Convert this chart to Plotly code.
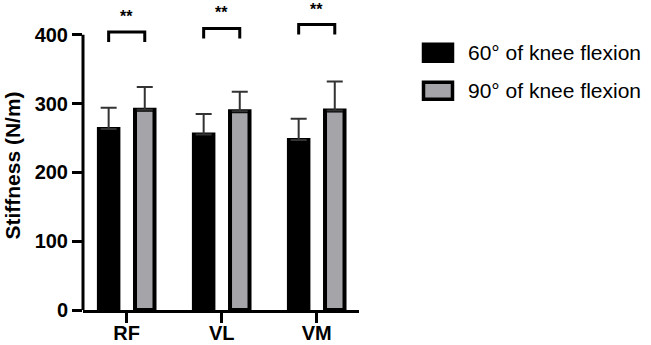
import plotly.graph_objects as go

categories = ["RF", "VL", "VM"]
series_names = ["60° of knee flexion", "90° of knee flexion"]
stiff_60 = [263, 255, 247]
sd_60 = [31, 30, 31]
stiff_90 = [291, 289, 290]
sd_90 = [33, 28, 42]
bracket_top = [404, 409, 415]
star_y = [426, 432, 437]
y_ticks = [0, 100, 200, 300, 400]

W, H = 651, 345
L, R, T, B = 83, 292, 21.25, 35
PW, PH = W - L - R, H - T - B
Y_MAX = 420
FONT = "Liberation Sans, Arial, Helvetica, sans-serif"
GREY = "#a5a4a9"

def px(x):
    return (x - L) / PW

def py(y):
    return (H - B - y) / PH

xs = list(range(len(categories)))

fig = go.Figure()
fig.add_trace(go.Bar(
    x=xs, y=stiff_60, name=series_names[0],
    marker=dict(color="black", line=dict(color="black", width=4)),
    error_y=dict(type="data", array=sd_60, arrayminus=[0] * 3, symmetric=False,
                 color="#333333", thickness=2, width=8),
    showlegend=False,
))
fig.add_trace(go.Bar(
    x=xs, y=stiff_90, name=series_names[1],
    marker=dict(color=GREY, line=dict(color="black", width=4)),
    error_y=dict(type="data", array=sd_90, arrayminus=[0] * 3, symmetric=False,
                 color="#333333", thickness=2, width=8),
    showlegend=False,
))

# significance brackets
off = 0.19
leg = 14.5
for i, top in enumerate(bracket_top):
    fig.add_trace(go.Scatter(
        x=[i - off, i - off, i + off, i + off],
        y=[top - leg, top, top, top - leg],
        mode="lines", line=dict(color="black", width=3),
        showlegend=False, hoverinfo="skip", cliponaxis=False,
    ))
    fig.add_annotation(x=i, y=star_y[i] / Y_MAX, xref="x", yref="paper", text="<b>**</b>",
                       showarrow=False, yanchor="middle",
                       font=dict(family=FONT, size=16, color="black"))

# y axis line from 0 to 400
fig.add_shape(type="line", xref="paper", yref="y", x0=0, x1=0, y0=0, y1=400,
              line=dict(color="black", width=3))

# manual legend
legend_y = [53, 91]
colors = ["black", GREY]
for k in range(2):
    yc = legend_y[k]
    fig.add_shape(type="rect", xref="paper", yref="paper",
                  x0=px(423.5), x1=px(452.5), y0=py(yc - 8.5), y1=py(yc + 8.5),
                  fillcolor=colors[k], line=dict(color="black", width=3.5))
    fig.add_annotation(xref="paper", yref="paper", x=px(466), y=py(yc),
                       xanchor="left", yanchor="middle", text=series_names[k],
                       showarrow=False, font=dict(family=FONT, size=21, color="black"))

fig.update_layout(
    width=W, height=H,
    margin=dict(l=L, r=R, t=T, b=B, pad=0, autoexpand=False),
    plot_bgcolor="white", paper_bgcolor="white",
    barmode="group", bargap=0.24, bargroupgap=0.46,
    font=dict(family=FONT, color="black"),
    showlegend=False,
)
fig.update_xaxes(
    range=[-0.46, 2.445], tickvals=xs, ticktext=["<b>%s</b>" % c for c in categories],
    showline=True, linecolor="black", linewidth=3,
    ticks="outside", ticklen=10, tickwidth=3, tickcolor="black",
    tickfont=dict(family=FONT, size=20, color="black"),
    ticklabelstandoff=-7,
    showgrid=False, zeroline=False, automargin=False,
)
fig.update_yaxes(
    range=[0, Y_MAX], tickvals=y_ticks, ticktext=["<b>%d</b>" % v for v in y_ticks],
    showline=False, ticks="outside", ticklen=10, tickwidth=3, tickcolor="black",
    tickfont=dict(family=FONT, size=20, color="black"),
    showgrid=False, zeroline=False, automargin=False,
    title=dict(text="<b>Stiffness (N/m)</b>", font=dict(family=FONT, size=21, color="black"),
               standoff=8),
)

fig.write_html("out.html", config={"displayModeBar": False},
               post_script="document.body.style.margin='0';document.body.style.overflow='hidden';")
